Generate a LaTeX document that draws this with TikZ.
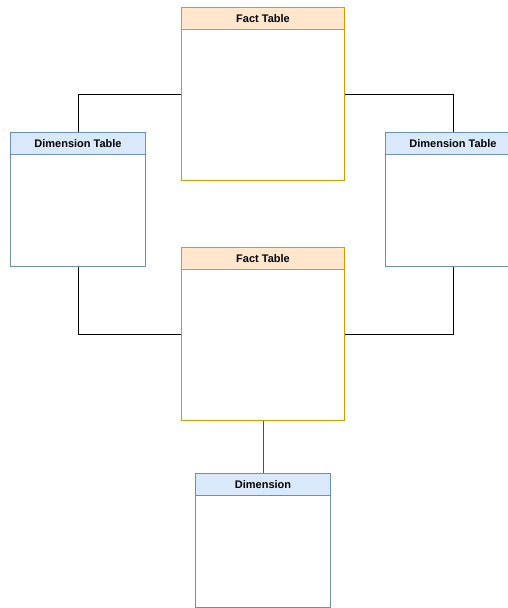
\documentclass[tikz,border=0pt]{standalone}
\usepackage{fontspec}
\setmainfont{Liberation Sans}
\definecolor{factline}{HTML}{D79B00}
\definecolor{factfill}{HTML}{FFE6CC}
\definecolor{dimline}{HTML}{6C8EBF}
\definecolor{dimfill}{HTML}{DAE8FC}
\tikzset{
  title/.style={font=\fontsize{11}{13}\selectfont\bfseries},
  link/.style={draw=black, line width=1pt}
}
% one table: \tablebox{name}{x}{y}{width}{height}{line colour}{header fill}{title}
\newcommand{\tablebox}[8]{%
  \node[draw=#6, line width=1pt, fill=white, minimum width=#4pt, minimum height=#5pt,
        anchor=north west, inner sep=0pt] (#1) at (#2,#3) {};
  \node[draw=#6, line width=1pt, fill=#7, minimum width=#4pt, minimum height=22pt,
        anchor=north west, inner sep=0pt, title] (#1-head) at (#2,#3) {#8};
}
\begin{document}
\begin{tikzpicture}[x=1pt,y=-1pt]
  \useasboundingbox (0,0) rectangle (508,608);
  \clip (0,0) rectangle (508,608);
  % tables
  \tablebox{fact1}{181}{7}{163}{173}{factline}{factfill}{Fact Table}
  \tablebox{fact2}{181}{247}{163}{173}{factline}{factfill}{Fact Table}
  \tablebox{dimL}{10}{132}{135}{134}{dimline}{dimfill}{Dimension Table}
  \tablebox{dimR}{385}{132}{135}{134}{dimline}{dimfill}{Dimension Table}
  \tablebox{dimB}{195}{473}{135}{134}{dimline}{dimfill}{Dimension}
  % elbow connectors between the tables
  \draw[link] (dimL-head.north) |- (fact1.west);
  \draw[link] (fact1.east) -| (dimR-head.north);
  \draw[link] (dimL.south) |- (fact2.west);
  \draw[link] (dimR.south) |- (fact2.east);
  \draw[link, draw=black!70] (fact2.south) -- (dimB-head.north);
\end{tikzpicture}
\end{document}
